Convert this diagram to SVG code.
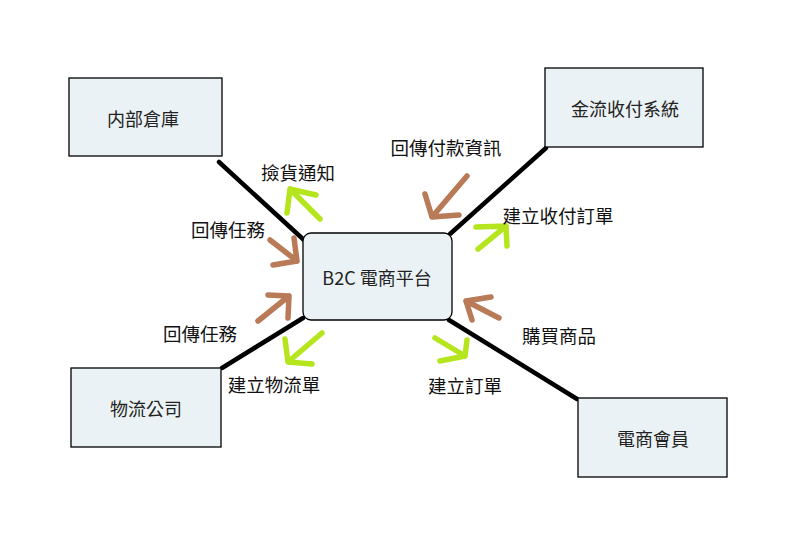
<svg xmlns="http://www.w3.org/2000/svg" width="812" height="548" viewBox="0 0 812 548">
<defs>
<style>
.box{fill:#ebf2f5;stroke:#000;stroke-width:1.3}
.nt{font-family:"Noto Sans CJK TC","Noto Sans",sans-serif;font-size:18px;fill:#222;text-anchor:middle;dominant-baseline:central}
.lt{font-family:"Noto Sans CJK TC","Noto Sans",sans-serif;font-size:18.5px;fill:#111;text-anchor:middle;dominant-baseline:central}
.link{stroke:#000;stroke-width:4.5;stroke-linecap:round;fill:none}
.br{stroke:#b97a57;stroke-width:5.5;stroke-linecap:round;stroke-linejoin:round;fill:none}
.gr{stroke:#b5e61d;stroke-width:5.5;stroke-linecap:round;stroke-linejoin:round;fill:none}
</style>
</defs>
<rect width="812" height="548" fill="#fff"/>
<g id="connectors">
<line class="link" x1="219" y1="162" x2="304" y2="240"/>
<line class="link" x1="450" y1="234" x2="546" y2="148"/>
<line class="link" x1="303" y1="318" x2="222" y2="368"/>
<line class="link" x1="449" y1="320" x2="577" y2="399"/>
<path class="gr" d="M320 219 L290 189 M316 195 L290 189 L287 213"/>
<path class="br" d="M270 240 L297 261 M294 238 L297 261 L273 265"/>
<path class="br" d="M467 176 L432 217 M425 194 L432 217 L459 215"/>
<path class="gr" d="M478 249 L506 226 M476 227 L506 226 L507 246"/>
<path class="br" d="M258 321 L289 296 M268 295 L289 296 L288 318"/>
<path class="gr" d="M322 333 L288 362 M285 339 L288 362 L312 364"/>
<path class="br" d="M499 318 L466 301 M491 297 L466 301 L472 320"/>
<path class="gr" d="M435 338 L465 356 M467 340 L465 356 L440 361"/>
<text class="lt" x="298" y="172">撿貨通知</text>
<text class="lt" x="228" y="229">回傳任務</text>
<text class="lt" x="446" y="147">回傳付款資訊</text>
<text class="lt" x="558" y="215">建立收付訂單</text>
<text class="lt" x="200" y="333">回傳任務</text>
<text class="lt" x="274" y="384">建立物流單</text>
<text class="lt" x="559" y="335">購買商品</text>
<text class="lt" x="465" y="385">建立訂單</text>
</g>
<g id="warehouse"><rect class="box" x="69" y="78" width="153" height="78"/><text class="nt" x="143" y="118">内部倉庫</text></g>
<g id="payment"><rect class="box" x="545" y="68" width="158" height="79"/><text class="nt" x="625" y="108">金流收付系統</text></g>
<g id="platform"><rect class="box" x="303" y="233" width="149" height="87" rx="8"/><text class="nt" x="377" y="277">B2C 電商平台</text></g>
<g id="logistics"><rect class="box" x="71" y="368" width="150" height="79"/><text class="nt" x="146" y="408">物流公司</text></g>
<g id="member"><rect class="box" x="578" y="398" width="149" height="79"/><text class="nt" x="653" y="438">電商會員</text></g>
</svg>
